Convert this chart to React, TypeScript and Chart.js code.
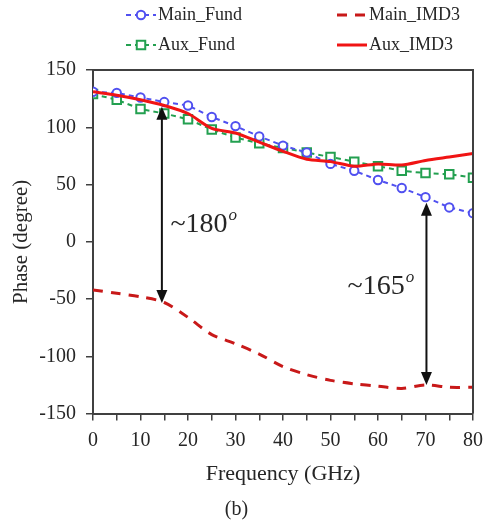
import React, { useEffect, useRef } from 'react';
import { Chart, registerables } from 'chart.js';

Chart.register(...registerables);

// ---------- data ----------
const frequencies = [0, 5, 10, 15, 20, 25, 30, 35, 40, 45, 50, 55, 60, 65, 70, 75, 80];
const mainFund = [131, 130, 126, 122, 119, 109, 101, 92, 84, 78, 68, 62, 54, 47, 39, 30, 25];
const auxFund = [129, 124, 116, 112, 107, 98, 91, 86, 82, 78, 74, 70, 66, 62, 60, 59, 56];
const mainIMD3 = [-42, -45, -48, -53, -66, -81, -89, -98, -109, -116, -121, -124, -126, -128, -125, -127, -127];
const auxIMD3 = [131, 128, 124, 119, 112, 99, 95, 87, 79, 72, 70, 66, 68, 67, 71, 74, 77];

const yTicks = [-150, -100, -50, 0, 50, 100, 150];
const xLabelTicks = [0, 10, 20, 30, 40, 50, 60, 70, 80];

// annotation arrows (data coordinates)
const arrowX = [14.5, 70.2];
const arrowTop = [118, 34];
const arrowBottom = [-53.5, -125];
const annotationText = ['~180', '~165'];
const annotationX = [16.3, 53.6];
const annotationY = [15, -39];

const SERIF = '"Liberation Serif", "Times New Roman", serif';
const AXIS = '#404040';
const TEXT = '#262626';

const BLUE = 'rgb(80, 80, 240)';
const GREEN = 'rgb(35, 160, 80)';
const RED = 'rgb(240, 20, 20)';
const DARKRED = 'rgb(200, 25, 25)';

const framePlugin = {
  id: 'frame',
  afterDatasetsDraw(chart: any) {
    const { ctx, chartArea } = chart;
    ctx.save();
    ctx.strokeStyle = AXIS;
    ctx.lineWidth = 2;
    ctx.beginPath();
    ctx.moveTo(chartArea.left, chartArea.top);
    ctx.lineTo(chartArea.right, chartArea.top);
    ctx.lineTo(chartArea.right, chartArea.bottom);
    ctx.stroke();
    ctx.restore();
  },
};

const annotationPlugin = {
  id: 'arrows',
  afterDatasetsDraw(chart: any) {
    const { ctx, scales } = chart;
    const xs = scales.x;
    const ys = scales.y;
    ctx.save();
    ctx.strokeStyle = '#111';
    ctx.fillStyle = '#111';
    ctx.lineWidth = 2;
    for (let i = 0; i < arrowX.length; i++) {
      const x = xs.getPixelForValue(arrowX[i]);
      const y1 = ys.getPixelForValue(arrowTop[i]);
      const y2 = ys.getPixelForValue(arrowBottom[i]);
      const head = 13;
      const hw = 5.5;
      ctx.beginPath();
      ctx.moveTo(x, y1 + head - 2);
      ctx.lineTo(x, y2 - head + 2);
      ctx.stroke();
      ctx.beginPath();
      ctx.moveTo(x, y1);
      ctx.lineTo(x - hw, y1 + head);
      ctx.lineTo(x + hw, y1 + head);
      ctx.closePath();
      ctx.fill();
      ctx.beginPath();
      ctx.moveTo(x, y2);
      ctx.lineTo(x - hw, y2 - head);
      ctx.lineTo(x + hw, y2 - head);
      ctx.closePath();
      ctx.fill();

      const tx = xs.getPixelForValue(annotationX[i]);
      const ty = ys.getPixelForValue(annotationY[i]);
      ctx.font = `28px ${SERIF}`;
      ctx.textBaseline = 'middle';
      ctx.textAlign = 'left';
      ctx.fillStyle = TEXT;
      ctx.fillText(annotationText[i], tx, ty);
      const w = ctx.measureText(annotationText[i]).width;
      ctx.font = `italic 17px ${SERIF}`;
      ctx.fillText('o', tx + w + 1, ty - 9);
      ctx.fillStyle = '#111';
    }
    ctx.restore();
  },
};

const legendPlugin = {
  id: 'customLegend',
  afterDraw(chart: any) {
    const { ctx } = chart;
    const order = ['Main_Fund', 'Main_IMD3', 'Aux_Fund', 'Aux_IMD3'];
    const pos = [
      [126, 15],
      [337, 15],
      [126, 45],
      [337, 45],
    ];
    order.forEach((label, i) => {
      const ds = chart.data.datasets.find((d: any) => d.label === label);
      if (!ds) return;
      const [x, y] = pos[i];
      ctx.save();
      ctx.strokeStyle = ds.borderColor;
      ctx.lineWidth = ds.borderWidth;
      ctx.setLineDash(ds.borderDash || []);
      ctx.beginPath();
      ctx.moveTo(x, y);
      ctx.lineTo(x + 30, y);
      ctx.stroke();
      ctx.setLineDash([]);
      if (ds.pointRadius > 0) {
        ctx.lineWidth = ds.pointBorderWidth;
        ctx.strokeStyle = ds.borderColor;
        ctx.fillStyle = '#fff';
        const cx = x + 15;
        if (ds.pointStyle === 'rect') {
          const s = ds.pointRadius * Math.SQRT1_2;
          ctx.beginPath();
          ctx.rect(cx - s, y - s, 2 * s, 2 * s);
          ctx.fill();
          ctx.stroke();
        } else {
          ctx.beginPath();
          ctx.arc(cx, y, ds.pointRadius, 0, Math.PI * 2);
          ctx.fill();
          ctx.stroke();
        }
      }
      ctx.font = `18px ${SERIF}`;
      ctx.fillStyle = TEXT;
      ctx.textBaseline = 'middle';
      ctx.textAlign = 'left';
      ctx.fillText(label, x + 32, y);
      ctx.restore();
    });
  },
};

export default function App() {
  const canvasRef = useRef<HTMLCanvasElement | null>(null);

  useEffect(() => {
    if (!canvasRef.current) return;
    const chart = new Chart(canvasRef.current, {
      type: 'line',
      data: {
        labels: frequencies,
        datasets: [
          {
            label: 'Aux_IMD3',
            data: frequencies.map((f, i) => ({ x: f, y: auxIMD3[i] })),
            borderColor: RED,
            backgroundColor: RED,
            borderWidth: 3,
            pointRadius: 0,
            tension: 0.25,
          },
          {
            label: 'Main_Fund',
            data: frequencies.map((f, i) => ({ x: f, y: mainFund[i] })),
            borderColor: BLUE,
            backgroundColor: '#fff',
            borderWidth: 2,
            borderDash: [5, 4],
            pointStyle: 'circle',
            pointRadius: 4.2,
            pointBorderWidth: 2,
            pointBorderColor: BLUE,
            pointBackgroundColor: '#fff',
            tension: 0,
          },
          {
            label: 'Aux_Fund',
            data: frequencies.map((f, i) => ({ x: f, y: auxFund[i] })),
            borderColor: GREEN,
            backgroundColor: '#fff',
            borderWidth: 2,
            borderDash: [5, 4],
            pointStyle: 'rect',
            pointRadius: 6,
            pointBorderWidth: 2,
            pointBorderColor: GREEN,
            pointBackgroundColor: '#fff',
            tension: 0,
          },
          {
            label: 'Main_IMD3',
            data: frequencies.map((f, i) => ({ x: f, y: mainIMD3[i] })),
            borderColor: DARKRED,
            backgroundColor: DARKRED,
            borderWidth: 3,
            borderDash: [10, 8],
            pointRadius: 0,
            tension: 0.3,
          },
        ],
      },
      options: {
        responsive: false,
        animation: false,
        maintainAspectRatio: false,
        layout: { padding: { top: 70, right: 15, left: 0, bottom: 0 } },
        plugins: {
          legend: { display: false },
          tooltip: { enabled: false },
          title: {
            display: true,
            position: 'bottom',
            text: '(b)',
            color: TEXT,
            font: { family: SERIF, size: 20, weight: 'normal' },
            padding: { top: 9, bottom: 1 },
          },
        },
        scales: {
          x: {
            type: 'linear',
            min: 0,
            max: 80,
            afterBuildTicks: (scale: any) => {
              scale.ticks = frequencies.map((v) => ({ value: v }));
            },
            afterFit: (scale: any) => {
              scale.paddingLeft = 0;
              scale.paddingRight = 0;
            },
            ticks: {
              autoSkip: false,
              maxRotation: 0,
              padding: 8,
              color: TEXT,
              font: { family: SERIF, size: 20 },
              callback: (v: any) => (xLabelTicks.includes(Number(v)) ? String(v) : ''),
            },
            grid: {
              drawOnChartArea: false,
              drawTicks: true,
              tickLength: 7,
              color: AXIS,
              lineWidth: 1.5,
            },
            border: { display: true, color: AXIS, width: 2 },
            title: {
              display: true,
              text: 'Frequency (GHz)',
              color: TEXT,
              font: { family: SERIF, size: 22 },
              padding: { top: 0, bottom: 2 },
            },
          },
          y: {
            type: 'linear',
            min: -150,
            max: 150,
            afterBuildTicks: (scale: any) => {
              scale.ticks = yTicks.map((v) => ({ value: v }));
            },
            afterFit: (scale: any) => {
              scale.width = 93;
            },
            ticks: {
              padding: 10,
              color: TEXT,
              font: { family: SERIF, size: 20 },
            },
            grid: {
              drawOnChartArea: false,
              drawTicks: true,
              tickLength: 7,
              color: AXIS,
              lineWidth: 1.5,
            },
            border: { display: true, color: AXIS, width: 2 },
            title: {
              display: true,
              text: 'Phase (degree)',
              color: TEXT,
              font: { family: SERIF, size: 21 },
              padding: { top: 9, bottom: 0 },
            },
          },
        },
      },
      plugins: [framePlugin, annotationPlugin, legendPlugin],
    } as any);
    return () => chart.destroy();
  }, []);

  return (
    <div style={{ position: 'absolute', left: 0, top: 0, width: 488, height: 523, background: '#fff' }}>
      <canvas ref={canvasRef} width={488} height={523} style={{ display: 'block', width: 488, height: 523 }} />
    </div>
  );
}
